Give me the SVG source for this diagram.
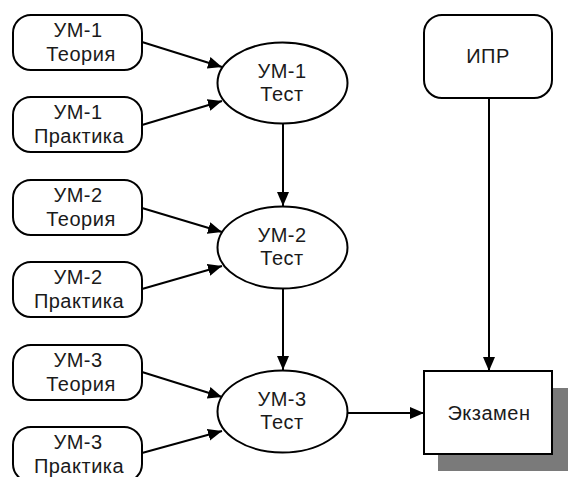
<svg xmlns="http://www.w3.org/2000/svg" width="568" height="477" viewBox="0 0 568 477">
  <style>
    .box { fill: #ffffff; stroke: #000000; stroke-width: 2; }
    .edge { fill: none; stroke: #000000; stroke-width: 2; marker-end: url(#arrow); }
    text { font-family: "Liberation Sans", Arial, sans-serif; font-size: 20px; letter-spacing: 0.5px; fill: #1a1a1a; text-anchor: middle; }
  </style>
  <defs>
    <marker id="arrow" markerUnits="userSpaceOnUse" markerWidth="16" markerHeight="13" refX="14" refY="6" orient="auto">
      <path d="M0,0 L14,6 L0,12 z" fill="#000000"/>
    </marker>
  </defs>
  <rect width="568" height="477" fill="#ffffff"/>

  <!-- module 1 sources -->
  <g id="um1-theory">
    <rect class="box" x="13" y="15" width="129" height="55" rx="18"/>
    <text x="78" y="37">УМ-1</text>
    <text x="81" y="61">Теория</text>
  </g>
  <g id="um1-practice">
    <rect class="box" x="13" y="97" width="129" height="55" rx="18"/>
    <text x="78" y="119">УМ-1</text>
    <text x="79" y="143">Практика</text>
  </g>
  <g id="um1-test">
    <ellipse class="box" cx="282.5" cy="83" rx="65" ry="40.5"/>
    <text x="282" y="78">УМ-1</text>
    <text x="282" y="101">Тест</text>
  </g>

  <!-- module 2 sources -->
  <g id="um2-theory">
    <rect class="box" x="13" y="180" width="129" height="55" rx="18"/>
    <text x="78" y="202">УМ-2</text>
    <text x="81" y="226">Теория</text>
  </g>
  <g id="um2-practice">
    <rect class="box" x="13" y="262" width="129" height="55" rx="18"/>
    <text x="78" y="284">УМ-2</text>
    <text x="79" y="308">Практика</text>
  </g>
  <g id="um2-test">
    <ellipse class="box" cx="282.5" cy="247.5" rx="65" ry="41"/>
    <text x="282" y="242">УМ-2</text>
    <text x="282" y="265">Тест</text>
  </g>

  <!-- module 3 sources -->
  <g id="um3-theory">
    <rect class="box" x="13" y="345" width="129" height="55" rx="18"/>
    <text x="78" y="367">УМ-3</text>
    <text x="81" y="391">Теория</text>
  </g>
  <g id="um3-practice">
    <rect class="box" x="13" y="427" width="129" height="55" rx="18"/>
    <text x="78" y="449">УМ-3</text>
    <text x="79" y="473">Практика</text>
  </g>
  <g id="um3-test">
    <ellipse class="box" cx="282.5" cy="411.5" rx="65" ry="41"/>
    <text x="282" y="406">УМ-3</text>
    <text x="282" y="429">Тест</text>
  </g>

  <!-- individual work and final exam -->
  <g id="ipr">
    <rect class="box" x="424" y="15" width="128" height="83" rx="18"/>
    <text x="488" y="63">ИПР</text>
  </g>
  <g id="exam">
    <rect x="438" y="388" width="130" height="83" fill="#7a7a7a"/>
    <rect class="box" x="424" y="371" width="128" height="83"/>
    <text x="489" y="420">Экзамен</text>
  </g>

  <g id="connectors">
    <line class="edge" x1="142" y1="42" x2="222" y2="67"/>
    <line class="edge" x1="142" y1="125" x2="222" y2="101"/>
    <line class="edge" x1="283" y1="123.5" x2="283" y2="206"/>
    <line class="edge" x1="142" y1="208" x2="222" y2="232"/>
    <line class="edge" x1="142" y1="289" x2="222" y2="266"/>
    <line class="edge" x1="283" y1="288.5" x2="283" y2="370"/>
    <line class="edge" x1="142" y1="372" x2="222" y2="397"/>
    <line class="edge" x1="142" y1="453" x2="222" y2="431"/>
    <line class="edge" x1="489" y1="98" x2="489" y2="371"/>
    <line class="edge" x1="347.5" y1="413" x2="424" y2="413"/>
  </g>
</svg>
